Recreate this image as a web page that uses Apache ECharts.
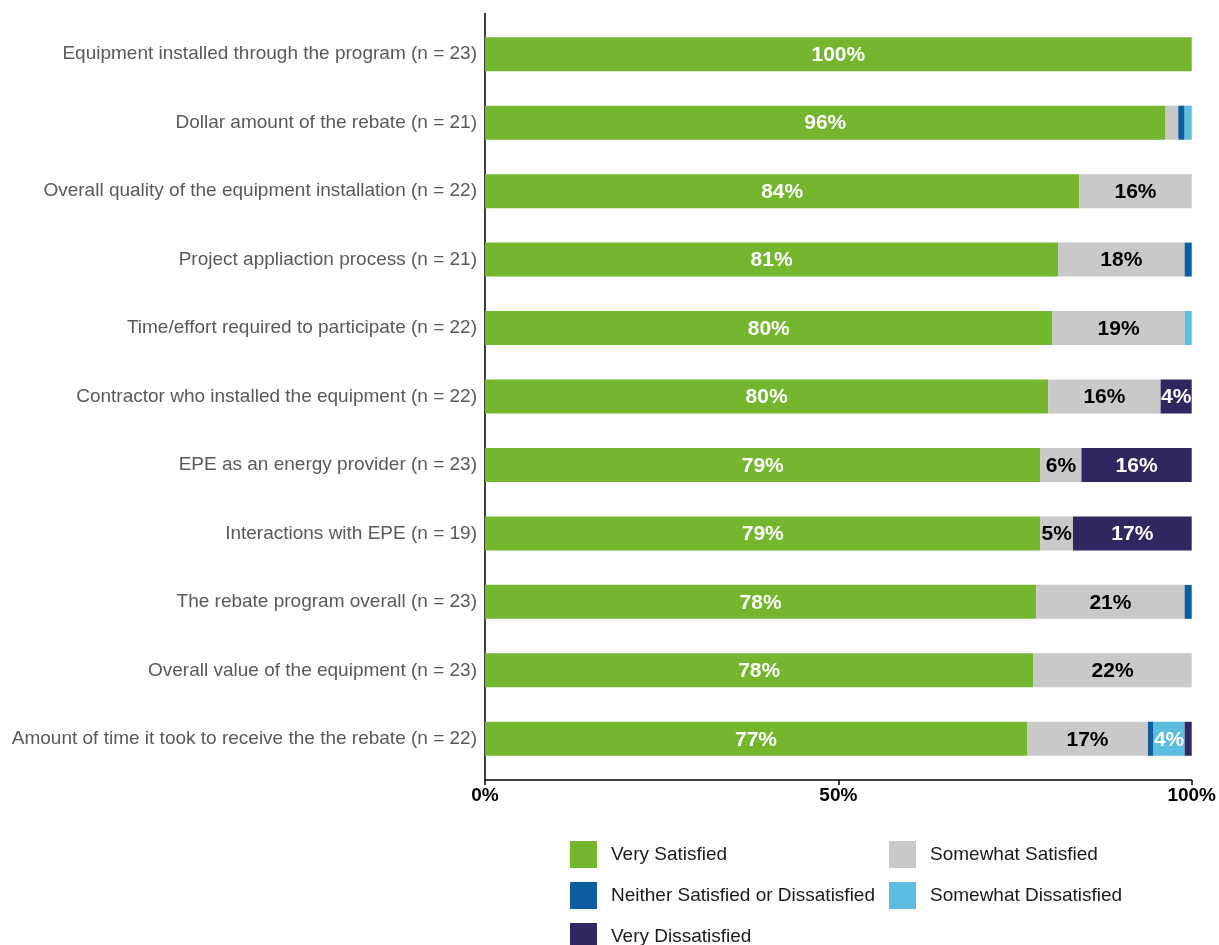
<!DOCTYPE html>
<html>
<head>
<meta charset="utf-8">
<script src="https://cdn.jsdelivr.net/npm/echarts@6/dist/echarts.min.js"></script>
<style>
  html, body { margin: 0; padding: 0; background: #ffffff; overflow: hidden; }
  #chart { width: 1219px; height: 945px; }
</style>
</head>
<body>
<div id="chart"></div>
<script>
// Survey items, top to bottom
const categories = [
  'Equipment installed through the program (n = 23)',
  'Dollar amount of the rebate (n = 21)',
  'Overall quality of the equipment installation (n = 22)',
  'Project appliaction process (n = 21)',
  'Time/effort required to participate (n = 22)',
  'Contractor who installed the equipment (n = 22)',
  'EPE as an energy provider (n = 23)',
  'Interactions with EPE (n = 19)',
  'The rebate program overall (n = 23)',
  'Overall value of the equipment (n = 23)',
  'Amount of time it took to receive the the rebate (n = 22)'
];

// Share of respondents (%) per satisfaction level
const verySatisfied     = [100, 96.3, 84.1, 81.1, 80.3, 79.7, 78.6, 78.6, 78.0, 77.6, 76.7];
const somewhatSatisfied = [0,   1.8,  15.9, 17.9, 18.7, 15.9, 5.8,  4.6,  21.0, 22.4, 17.1];
const neither           = [0,   0.9,  0,    1.0,  0,    0,    0,    0,    1.0,  0,    0.8];
const somewhatDissat    = [0,   1.0,  0,    0,    1.0,  0,    0,    0,    0,    0,    4.4];
const veryDissatisfied  = [0,   0,    0,    0,    0,    4.4,  15.6, 16.8, 0,    0,    1.0];

const xTickLabels = ['0%', '50%', '100%'];

const FONT = 'Liberation Sans, Arial, sans-serif';

const chart = echarts.init(document.getElementById('chart'));

function makeSeries(name, data, color, labelColor) {
  return {
    name: name,
    type: 'bar',
    stack: 'total',
    data: data,
    barWidth: 34,
    itemStyle: { color: color },
    label: {
      show: true,
      position: 'inside',
      offset: [0, 1],
      color: labelColor,
      fontFamily: FONT,
      fontWeight: 'bold',
      fontSize: 21,
      formatter: p => (p.value >= 3.5 ? Math.round(p.value) + '%' : '')
    },
    emphasis: { disabled: true }
  };
}

// One legend entry per block so the two columns line up
function legendItem(name, left, top) {
  return {
    left: left, top: top,
    padding: 0,
    itemWidth: 27, itemHeight: 27,
    icon: 'rect',
    data: [name],
    textStyle: { color: '#1a1a1a', fontSize: 19, fontFamily: FONT, padding: [0, 0, 0, 9] },
    selectedMode: false
  };
}

chart.setOption({
  animation: false,
  backgroundColor: '#ffffff',
  grid: { left: 485, right: 23, top: 20, bottom: 172, containLabel: false },
  legend: [
    legendItem('Very Satisfied', 570, 841),
    legendItem('Somewhat Satisfied', 889, 841),
    legendItem('Neither Satisfied or Dissatisfied', 570, 882),
    legendItem('Somewhat Dissatisfied', 889, 882),
    legendItem('Very Dissatisfied', 570, 923)
  ],
  xAxis: {
    type: 'value',
    min: 0, max: 100, interval: 50,
    offset: 7,
    axisLine: { show: true, lineStyle: { color: '#000', width: 1.5 } },
    axisTick: { show: true, length: 5, lineStyle: { color: '#000', width: 1.5 } },
    splitLine: { show: false },
    axisLabel: {
      color: '#000',
      fontWeight: 'bold',
      fontSize: 19,
      fontFamily: FONT,
      margin: 6,
      formatter: v => xTickLabels[Math.round(v / 50)]
    }
  },
  yAxis: {
    type: 'category',
    inverse: true,
    data: categories,
    axisLine: { show: false },
    axisTick: { show: false },
    axisLabel: {
      color: '#595959',
      fontSize: 19,
      fontFamily: FONT,
      margin: 8
    }
  },
  graphic: [
    {
      type: 'line',
      shape: { x1: 485, y1: 13, x2: 485, y2: 780 },
      style: { stroke: '#000', lineWidth: 1.5 },
      silent: true
    }
  ],
  series: [
    makeSeries('Very Satisfied', verySatisfied, '#74b72e', '#ffffff'),
    makeSeries('Somewhat Satisfied', somewhatSatisfied, '#c9c9c9', '#000000'),
    makeSeries('Neither Satisfied or Dissatisfied', neither, '#0b5ea0', '#ffffff'),
    makeSeries('Somewhat Dissatisfied', somewhatDissat, '#5cbde0', '#ffffff'),
    makeSeries('Very Dissatisfied', veryDissatisfied, '#2f2860', '#ffffff')
  ]
});
</script>
</body>
</html>
